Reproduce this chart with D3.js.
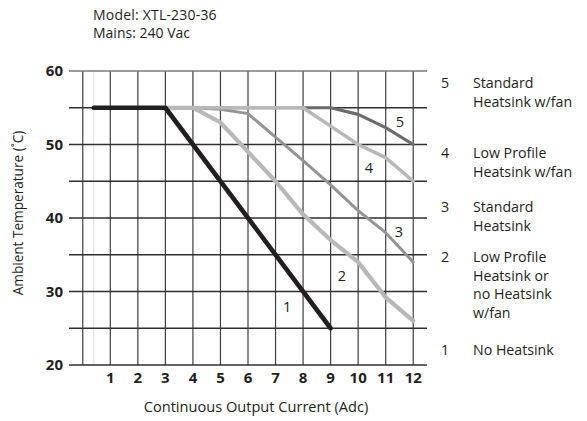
<!DOCTYPE html>
<html>
<head>
<meta charset="utf-8">
<title>XTL-230-36 derating</title>
<script src="https://d3js.org/d3.v7.min.js"></script>
<style>
  body { margin: 0; background: #fff; }
  text { font-family: "Open Sans", "DejaVu Sans", sans-serif; fill: #231f20; }
</style>
</head>
<body>
<div id="chart"></div>
<script>
// chart values
var xTicks = [1, 2, 3, 4, 5, 6, 7, 8, 9, 10, 11, 12];
var yTicks = [20, 30, 40, 50, 60];
var yGrid = [20, 25, 30, 35, 40, 45, 50, 55, 60];
var xGrid = [0, 1, 2, 3, 4, 5, 6, 7, 8, 9, 10, 11, 12];
var startCurrent = 0.4;

var current1 = [0.4, 3, 9];
var temp1 = [55, 55, 25];
var current2 = [3, 4, 5, 6, 7, 8, 9, 10, 11, 12];
var temp2 = [55, 55, 53, 49, 45, 40.5, 37, 34, 29.2, 26];
var current3 = [3, 4, 5, 6, 7, 8, 9, 10, 11, 12];
var temp3 = [55, 55, 54.8, 54.2, 51, 47.8, 44.5, 41, 38, 34];
var current4 = [3, 8, 9, 10, 11, 12];
var temp4 = [55, 55, 52.5, 50, 48.2, 45];
var current5 = [3, 8, 9, 10, 11, 12];
var temp5 = [55, 55, 55, 54.1, 52.3, 50];

var legendNums = ["5", "4", "3", "2", "1"];
var legendText = [
  ["Standard", "Heatsink w/fan"],
  ["Low Profile", "Heatsink w/fan"],
  ["Standard", "Heatsink"],
  ["Low Profile", "Heatsink or", "no Heatsink", "w/fan"],
  ["No Heatsink"]
];

var width = 587, height = 421;

var svg = d3.select("#chart")
  .append("svg")
  .attr("width", width)
  .attr("height", height);

// scales: grid runs half a unit past 0 and 12
var x = d3.scaleLinear().domain([-0.5, 12.5]).range([69, 427]);
var y = d3.scaleLinear().domain([20, 60]).range([365, 71]);

// header
svg.append("text").attr("x", 93).attr("y", 20).style("font-size", "14px").style("letter-spacing", "0.2px").text("Model: XTL-230-36");
svg.append("text").attr("x", 93).attr("y", 38).style("font-size", "14px").text("Mains: 240 Vac");

// faint line where the curves start
svg.append("line")
  .attr("x1", x(startCurrent)).attr("x2", x(startCurrent))
  .attr("y1", y(60)).attr("y2", y(20))
  .attr("stroke", "#dcdcdc").attr("stroke-width", 1);

// vertical grid
svg.append("g").selectAll("line")
  .data(xGrid)
  .enter().append("line")
  .attr("x1", function(d) { return x(d); })
  .attr("x2", function(d) { return x(d); })
  .attr("y1", y(60)).attr("y2", y(20))
  .attr("stroke", "#3f3f3f").attr("stroke-width", 1.2);

// horizontal grid
svg.append("g").selectAll("line")
  .data(yGrid)
  .enter().append("line")
  .attr("x1", x(-0.5)).attr("x2", x(12.5))
  .attr("y1", function(d) { return y(d); })
  .attr("y2", function(d) { return y(d); })
  .attr("stroke", function(d) { return d == 60 ? "#7a7a7a" : "#2f2f2f"; })
  .attr("stroke-width", 1.3);

// tick labels
svg.append("g").selectAll("text")
  .data(yTicks)
  .enter().append("text")
  .attr("x", 63)
  .attr("y", function(d) { return y(d) + 5; })
  .attr("text-anchor", "end")
  .style("font-size", "15px").style("font-weight", "bold")
  .text(function(d) { return d; });

svg.append("g").selectAll("text")
  .data(xTicks)
  .enter().append("text")
  .attr("x", function(d) { return x(d); })
  .attr("y", 383)
  .attr("text-anchor", "middle")
  .style("font-size", "15px").style("font-weight", "bold")
  .text(function(d) { return d; });

// axis titles
svg.append("text")
  .attr("transform", "translate(23,213) rotate(-90)")
  .attr("text-anchor", "middle")
  .style("font-size", "13.6px")
  .text("Ambient Temperature (\u02DAC)");

svg.append("text")
  .attr("x", 256).attr("y", 412)
  .attr("text-anchor", "middle")
  .style("font-size", "14.6px")
  .text("Continuous Output Current (Adc)");

// curves, drawn back to front
var line = d3.line()
  .x(function(d) { return x(d[0]); })
  .y(function(d) { return y(d[1]); });

var curves = [
  { c: current5, t: temp5, color: "#6b6b6b", w: 3.2 },
  { c: current3, t: temp3, color: "#949494", w: 3 },
  { c: current4, t: temp4, color: "#b8b8b8", w: 3.6 },
  { c: current2, t: temp2, color: "#b8b8b8", w: 4.2 },
  { c: current1, t: temp1, color: "#231f20", w: 4.6 }
];

svg.append("g").selectAll("path")
  .data(curves)
  .enter().append("path")
  .attr("d", function(d) { return line(d3.zip(d.c, d.t)); })
  .attr("fill", "none")
  .attr("stroke", function(d) { return d.color; })
  .attr("stroke-width", function(d) { return d.w; })
  .attr("stroke-linejoin", "round")
  .attr("stroke-linecap", "round");

// curve numbers inside the plot
var labelAt = [[11.52, 53.1], [10.39, 46.8], [11.48, 38.1], [9.41, 32.1], [7.42, 27.9]];
svg.append("g").selectAll("text")
  .data(legendNums)
  .enter().append("text")
  .attr("x", function(d, i) { return x(labelAt[i][0]); })
  .attr("y", function(d, i) { return y(labelAt[i][1]) + 5; })
  .attr("text-anchor", "middle")
  .style("font-size", "14.5px")
  .text(function(d) { return d; });

// legend on the right
var rowTop = [83, 153, 207, 257, 350];
var legend = svg.append("g");
legendNums.forEach(function(n, i) {
  legend.append("text")
    .attr("x", 445).attr("y", rowTop[i] + 5)
    .attr("text-anchor", "middle")
    .style("font-size", "14.2px")
    .text(n);
  legendText[i].forEach(function(s, j) {
    legend.append("text")
      .attr("x", 473).attr("y", rowTop[i] + 5 + j * 18.5)
      .style("font-size", "14.2px")
      .text(s);
  });
});
</script>
</body>
</html>
